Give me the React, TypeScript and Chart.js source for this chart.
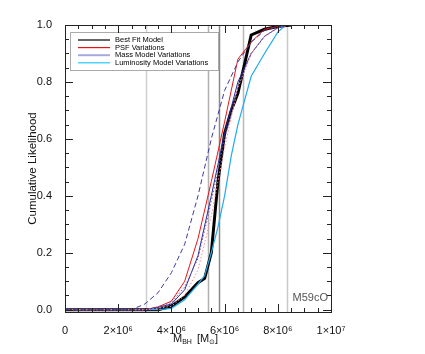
import React, { useEffect, useRef } from "react";
import { Chart, registerables } from "chart.js";
Chart.register(...registerables);

// x values in units of 1e6 solar masses
const bestFitX = [0, 3.5, 4.0, 4.5, 5.0, 5.25, 5.5, 5.75, 6.0, 6.25, 6.5, 7.0, 7.5, 8.0, 8.5];
const bestFitY = [0, 0, 0.012, 0.045, 0.095, 0.11, 0.2, 0.45, 0.62, 0.7, 0.76, 0.965, 0.985, 0.995, 1.0];

const psfX = [0, 3.0, 3.5, 4.0, 4.5, 5.0, 5.5, 6.0, 6.5, 7.0, 7.5, 8.0, 8.4];
const psfY = [0, 0, 0.01, 0.03, 0.1, 0.25, 0.45, 0.66, 0.88, 0.94, 0.985, 0.995, 1.0];

const psfDotX = [0, 3.0, 3.5, 4.0, 4.5, 5.0, 5.5, 6.0, 6.5, 7.0, 7.5, 8.0, 8.4];
const psfDotY = [0, 0, 0.005, 0.012, 0.05, 0.14, 0.33, 0.57, 0.78, 0.9, 0.96, 0.99, 1.0];

const massDashX = [0, 2.5, 3.0, 3.5, 4.0, 4.5, 5.0, 5.5, 6.0, 6.5, 7.0, 7.5, 8.0, 8.4];
const massDashY = [0, 0, 0.02, 0.06, 0.13, 0.23, 0.4, 0.6, 0.77, 0.87, 0.94, 0.98, 0.995, 1.0];

const massX = [0, 3.0, 3.5, 4.0, 4.5, 5.0, 5.5, 6.0, 6.5, 7.0, 7.5, 8.0, 8.4];
const massY = [0, 0, 0.008, 0.02, 0.07, 0.19, 0.4, 0.62, 0.8, 0.9, 0.96, 0.99, 1.0];

const massDotX = [0, 3.0, 3.5, 4.0, 4.5, 5.0, 5.5, 6.0, 6.5, 7.0, 7.5, 8.0, 8.4];
const massDotY = [0, 0, 0.01, 0.025, 0.08, 0.18, 0.38, 0.6, 0.78, 0.9, 0.96, 0.99, 1.0];

const lumX = [0, 3.5, 4.0, 4.5, 5.0, 5.25, 5.5, 5.75, 6.0, 6.25, 6.5, 7.0, 7.5, 8.0, 8.3];
const lumY = [0, 0, 0.005, 0.035, 0.09, 0.12, 0.2, 0.29, 0.4, 0.54, 0.65, 0.82, 0.9, 0.975, 1.0];

const verticalLines = [3.05, 5.36, 5.79, 6.7, 8.33];
const verticalColors = ["#d0d0d0", "#b0b0b0", "#8a8a8a", "#b8b8b8", "#c8c8c8"];

const xTicks = [0, 2, 4, 6, 8, 10];
const xTickLabels = ["0", "2×10⁶", "4×10⁶", "6×10⁶", "8×10⁶", "1×10⁷"];
const yTicks = [0, 0.2, 0.4, 0.6, 0.8, 1.0];

const legendLabels = ["Best Fit Model", "PSF Variations", "Mass Model Variations", "Luminosity Model Variations"];
const legendColors = ["#000000", "#ee1111", "#a8a8dd", "#22c8ff"];

const pts = (xs: number[], ys: number[]) => xs.map((x, i) => ({ x: x * 1e6, y: ys[i] }));

const FONT = "'Liberation Sans', Arial, sans-serif";

export default function App() {
  const ref = useRef<HTMLCanvasElement | null>(null);
  useEffect(() => {
    document.body.style.margin = "0";
    const canvas = ref.current!;
    const line = (data: any, color: string, width: number, dash: number[] = []) => ({
      data,
      borderColor: color,
      backgroundColor: color,
      borderWidth: width,
      borderDash: dash,
      showLine: true,
      pointRadius: 0,
      tension: 0,
      fill: false,
    });

    const framePlugin = {
      id: "frame",
      beforeDatasetsDraw(chart: any) {
        const { ctx, chartArea: a, scales } = chart;
        ctx.save();
        ctx.lineWidth = 1.5;
        verticalLines.forEach((v, i) => {
          const px = Math.round(scales.x.getPixelForValue(v * 1e6)) + 0.5;
          ctx.strokeStyle = verticalColors[i];
          ctx.beginPath();
          ctx.moveTo(px, a.top);
          ctx.lineTo(px, a.bottom);
          ctx.stroke();
        });
        ctx.restore();
      },
      afterDraw(chart: any) {
        const { ctx, chartArea: a, scales } = chart;
        ctx.save();
        // legend
        const lx = 70, ly = 32, lw = 148, lh = 38;
        ctx.fillStyle = "#ffffff";
        ctx.fillRect(lx, ly, lw, lh);
        ctx.strokeStyle = "#aaaaaa";
        ctx.lineWidth = 1;
        ctx.strokeRect(lx + 0.5, ly + 0.5, lw, lh);
        ctx.font = `7.5px ${FONT}`;
        ctx.textBaseline = "middle";
        legendLabels.forEach((t, i) => {
          const y = ly + 8 + i * 7.6;
          ctx.strokeStyle = legendColors[i];
          ctx.lineWidth = i === 2 ? 2 : 1.2;
          ctx.beginPath();
          ctx.moveTo(78, y);
          ctx.lineTo(110, y);
          ctx.stroke();
          ctx.fillStyle = "#000";
          ctx.fillText(t, 115, y);
        });
        // box
        ctx.strokeStyle = "#222";
        ctx.lineWidth = 1;
        ctx.strokeRect(a.left + 0.5, a.top + 0.5, a.right - a.left, a.bottom - a.top);
        // inward ticks
        ctx.beginPath();
        for (let v = 0; v <= 10.0001; v += 0.5) {
          const px = Math.round(scales.x.getPixelForValue(v * 1e6)) + 0.5;
          const major = Math.abs(v / 2 - Math.round(v / 2)) < 1e-6;
          const L = major ? 8 : 4;
          ctx.moveTo(px, a.bottom);
          ctx.lineTo(px, a.bottom - L);
          ctx.moveTo(px, a.top);
          ctx.lineTo(px, a.top + L);
        }
        for (let k = 0; k <= 20; k++) {
          const v = k * 0.05;
          const py = Math.round(scales.y.getPixelForValue(v)) + 0.5;
          const L = k % 4 === 0 ? 8 : 4;
          ctx.moveTo(a.left, py);
          ctx.lineTo(a.left + L, py);
          ctx.moveTo(a.right, py);
          ctx.lineTo(a.right - L, py);
        }
        ctx.stroke();
        // annotation
        ctx.fillStyle = "#555";
        ctx.font = `11px ${FONT}`;
        ctx.textAlign = "right";
        ctx.textBaseline = "middle";
        ctx.fillText("M59cO", a.right - 3, 298);
        // x title
        ctx.fillStyle = "#111";
        ctx.textAlign = "left";
        ctx.textBaseline = "alphabetic";
        let x = 173;
        const by = 342;
        ctx.font = `11px ${FONT}`;
        ctx.fillText("M", x, by); x += ctx.measureText("M").width;
        ctx.font = `7px ${FONT}`;
        ctx.fillText("BH", x, by + 2); x += ctx.measureText("BH").width + 5;
        ctx.font = `11px ${FONT}`;
        ctx.fillText("[M", x, by); x += ctx.measureText("[M").width;
        ctx.font = `7px ${FONT}`;
        ctx.fillText("⊙", x, by + 2); x += ctx.measureText("⊙").width;
        ctx.font = `11px ${FONT}`;
        ctx.fillText("]", x, by);
        // y title
        ctx.translate(33, (a.top + a.bottom) / 2);
        ctx.rotate(-Math.PI / 2);
        ctx.textAlign = "center";
        ctx.textBaseline = "middle";
        ctx.font = `11.5px ${FONT}`;
        ctx.fillText("Cumulative Likelihood", 0, 0);
        ctx.restore();
      },
    };

    const chart = new Chart(canvas, {
      type: "scatter",
      data: {
        datasets: [
          line(pts(massDashX, massDashY), "#3a3aa0", 1, [5, 3]),
          line(pts(psfDotX, psfDotY), "#ff8a8a", 1, [1.5, 2]),
          line(pts(massDotX, massDotY), "#7050a8", 1, [1.5, 2]),
          line(pts(massX, massY), "#2a2a9a", 1),
          line(pts(psfX, psfY), "#ee1111", 1),
          line(pts(lumX, lumY), "#22aaee", 1.2),
          line(pts(bestFitX, bestFitY), "#000000", 3),
        ] as any,
      },
      options: {
        animation: false,
        responsive: false,
        events: [],
        layout: { padding: { top: 25, right: 94, left: 0, bottom: 0 } },
        plugins: { legend: { display: false }, tooltip: { enabled: false } },
        scales: {
          x: {
            type: "linear",
            min: 0,
            max: 1e7,
            grid: { display: false },
            border: { display: false },
            afterBuildTicks: (s: any) => { s.ticks = xTicks.map((v) => ({ value: v * 1e6 })); },
            afterFit: (s: any) => { s.height = 42; },
            ticks: {
              padding: 4,
              maxRotation: 0,
              autoSkip: false,
              color: "#111",
              font: { family: FONT, size: 11 },
              callback: (_v: any, i: number) => xTickLabels[i],
            },
          },
          y: {
            type: "linear",
            min: -0.008,
            max: 1.0,
            grid: { display: false },
            border: { display: false },
            afterBuildTicks: (s: any) => { s.ticks = yTicks.map((v) => ({ value: v })); },
            afterFit: (s: any) => { s.width = 65; },
            ticks: {
              padding: 5,
              autoSkip: false,
              color: "#111",
              font: { family: FONT, size: 11 },
              callback: (v: any) => Number(v).toFixed(1),
            },
          },
        },
      },
      plugins: [framePlugin],
    });
    return () => chart.destroy();
  }, []);
  return (
    <div style={{ position: "absolute", left: 0, top: 0, width: 425, height: 354 }}>
      <canvas ref={ref} width={425} height={354} style={{ width: 425, height: 354, display: "block" }} />
    </div>
  );
}
